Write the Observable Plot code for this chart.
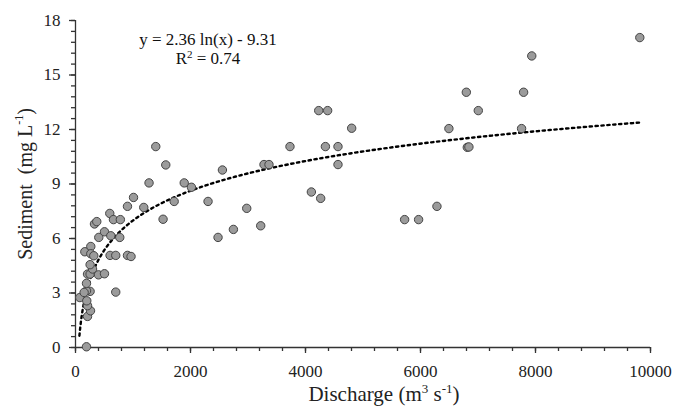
<!DOCTYPE html>
<html><head><meta charset="utf-8">
<script src="https://cdn.jsdelivr.net/npm/d3@7"></script>
<script src="https://cdn.jsdelivr.net/npm/@observablehq/plot@0.6"></script>
<style>body{margin:0;background:#fff} svg{display:block}</style>
</head><body><div id="chart"></div>
<script>
const discharge = [191,75,700,209,261,209,196,254,191,150,191,209,254,296,254,400,504,162,266,266,318,601,700,904,966,330,370,405,504,596,660,614,780,770,904,1009,1187,1279,1396,1523,1570,1716,1891,2016,2305,2479,2555,2746,2978,3221,3278,3365,3730,4102,4230,4264,4346,4385,4565,4565,4803,5724,5967,6286,6494,6797,6814,6842,7005,7758,7793,7935,9814];
const sediment = [0.04,2.75,3.05,1.71,2.02,2.3,2.57,3.09,3.12,3.03,3.53,4.04,4.04,4.32,4.56,4.0,4.06,5.27,5.56,5.16,5.05,5.07,5.07,5.07,5.01,6.8,6.93,6.06,6.37,7.38,7.04,6.15,7.04,6.06,7.77,8.26,7.71,9.06,11.06,7.06,10.05,8.04,9.06,8.82,8.04,6.06,9.77,6.5,7.66,6.7,10.07,10.07,11.06,8.56,13.04,8.21,11.06,13.04,11.06,10.07,12.07,7.04,7.04,7.77,12.05,14.05,11.02,11.04,13.04,12.05,14.05,16.05,17.06];
const xTicks = [0,2000,4000,6000,8000,10000];
const yTicks = [0,3,6,9,12,15,18];
const xMinorTicks = d3.range(0,10001,400);
const yMinorTicks = d3.range(0,31).map(i => i*0.6);
const fitSlope = 2.36, fitIntercept = -9.31, fitR2 = 0.74;
const fitStart = 68, fitEnd = 9814;

const points = discharge.map((d,i)=>({x:d, y:sediment[i]}));
const fit = d3.range(0, 201).map(i => {
  const x = fitStart * Math.pow(fitEnd/fitStart, i/200);
  return {x, y: fitSlope*Math.log(x) + fitIntercept};
});

const W = 674, H = 406, mL = 75, mR = 24, mT = 20, mB = 59;
const frameW = W - mL - mR, frameH = H - mT - mB;
const xPerPx = 10000 / frameW, yPerPx = 18 / frameH;
const axisColor = "#333";
const font = "'Liberation Serif', 'Times New Roman', serif";
const plot = Plot.plot({
  width: W, height: H,
  marginLeft: mL, marginRight: mR, marginTop: mT, marginBottom: mB,
  style: {fontFamily: font, fontSize: "17px", color: "#222", background: "#fff"},
  x: {domain: [0,10000], axis: null},
  y: {domain: [0,18], axis: null},
  marks: [
    // tick marks (outward)
    Plot.ruleX(xMinorTicks, {x: d => d, y1: 0, y2: -4*yPerPx, stroke: axisColor, strokeWidth: 1.3}),
    Plot.ruleX(xTicks, {x: d => d, y1: 0, y2: -6*yPerPx, stroke: axisColor, strokeWidth: 1.3}),
    Plot.ruleY(yMinorTicks, {y: d => d, x1: 0, x2: -4*xPerPx, stroke: axisColor, strokeWidth: 1.3}),
    Plot.ruleY(yTicks, {y: d => d, x1: 0, x2: -6*xPerPx, stroke: axisColor, strokeWidth: 1.3}),
    // axis lines
    Plot.ruleY([0], {x1: 0, x2: 10000, stroke: axisColor, strokeWidth: 1.3}),
    Plot.ruleX([0], {y1: 0, y2: 18, stroke: axisColor, strokeWidth: 1.3}),
    // tick labels
    Plot.text(xTicks, {x: d => d, y: 0, dy: 24, text: d => String(d), fontFamily: font, fontSize: 17, fill: "#222"}),
    Plot.text(yTicks, {x: 0, y: d => d, dx: -15, textAnchor: "end", text: d => String(d), fontFamily: font, fontSize: 17, fill: "#222"}),
    Plot.line(fit, {x: "x", y: "y", stroke: "#000", strokeWidth: 2.4, strokeDasharray: "2.3 3.6", curve: "linear"}),
    Plot.dot(points, {x: "x", y: "y", r: 4.2, fill: "#9b9b9b", stroke: "#444", strokeWidth: 1})
  ]
});
document.getElementById("chart").appendChild(plot);

const svg = d3.select(plot);
// y-axis title
const yt = svg.append("text").attr("transform","translate(27,184) rotate(-90)")
  .attr("text-anchor","middle").attr("dominant-baseline","middle")
  .style("font-family", font).attr("font-size", 20).attr("fill","#222");
yt.append("tspan").text("Sediment  (mg L");
yt.append("tspan").attr("font-size",12).attr("dy",-7).text("-1");
yt.append("tspan").attr("dy",7).text(")");
// x-axis title
const xt = svg.append("text").attr("x",384).attr("y",401)
  .attr("text-anchor","middle")
  .style("font-family", font).attr("font-size", 21).attr("fill","#222");
xt.append("tspan").text("Discharge (m");
xt.append("tspan").attr("font-size",13).attr("dy",-8).text("3");
xt.append("tspan").attr("dy",8).text(" s");
xt.append("tspan").attr("font-size",13).attr("dy",-8).text("-1");
xt.append("tspan").attr("dy",8).text(")");
// equation
svg.append("text").attr("x",208).attr("y",45).attr("text-anchor","middle")
  .style("font-family", font).attr("font-size", 17).attr("fill","#111")
  .text(`y = ${fitSlope} ln(x) - ${Math.abs(fitIntercept)}`);
const r2t = svg.append("text").attr("x",208).attr("y",64).attr("text-anchor","middle")
  .style("font-family", font).attr("font-size", 17).attr("fill","#111");
r2t.append("tspan").text("R");
r2t.append("tspan").attr("font-size",11).attr("dy",-6).text("2");
r2t.append("tspan").attr("dy",6).text(` = ${fitR2}`);
</script></body></html>
